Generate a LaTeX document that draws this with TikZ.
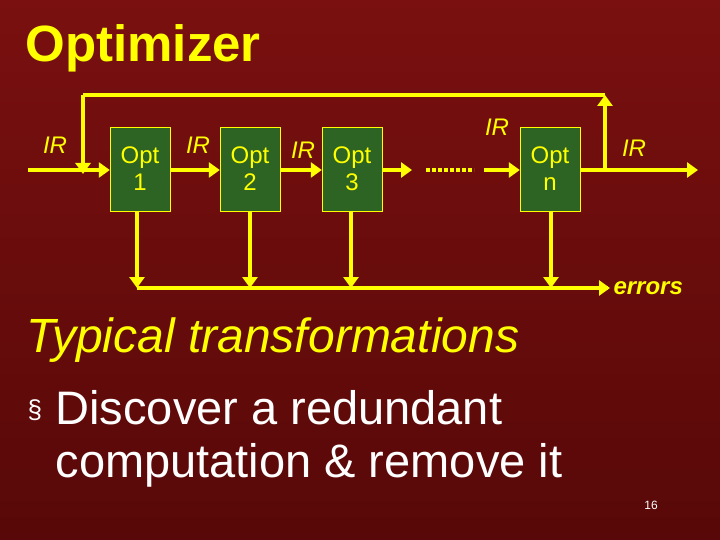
\documentclass[tikz,border=0pt]{standalone}
\usepackage{fontspec}
\setmainfont{Liberation Sans}
\usetikzlibrary{arrows.meta, positioning}
\definecolor{slidetop}{RGB}{122, 16, 16}
\definecolor{slidebottom}{RGB}{88, 8, 8}
\definecolor{optgreen}{RGB}{45, 100, 35}
\definecolor{lineyellow}{RGB}{255, 255, 0}

\begin{document}
\begin{tikzpicture}[x=1pt, y=-1pt,
    optbox/.style={draw=lineyellow, fill=optgreen, minimum width=60pt, minimum height=84pt,
        inner sep=0pt, text=lineyellow, font=\fontsize{24}{27}\selectfont, align=center},
    flow/.style={lineyellow, line width=3.5pt, -{Triangle[length=11pt, width=15pt]}},
    plain/.style={lineyellow, line width=3.5pt},
    irlabel/.style={text=lineyellow, font=\fontsize{24}{26}\selectfont\itshape}
]
% background
\shade[top color=slidetop, bottom color=slidebottom] (0,0) rectangle (720,540);
\useasboundingbox (0,0) rectangle (720,540);

% title
\node[anchor=west, text=lineyellow, font=\fontsize{51}{54}\selectfont\bfseries] (title) at (22,48) {Optimizer};

% optimizer passes
\node[optbox] (opt1) at (140,169) {Opt\\1};
\node[optbox] (opt2) at (250,169) {Opt\\2};
\node[optbox] (opt3) at (352,169) {Opt\\3};
\node[optbox] (optn) at (550,169) {Opt\\n};

% helper points
\coordinate (in) at (28,170);
\coordinate (out) at (698,170);
\coordinate (split) at (605,170);
\coordinate (topr) at (605,95);
\coordinate (topl) at (83,95);
\coordinate (join) at (83,170);
\coordinate (d1) at (412,170);
\coordinate (d2) at (484,170);
\coordinate (errl) at (137,288);
\coordinate (errr) at (608,288);

% main flow
\draw[flow] (in) -- (opt1.west |- in);
\draw[flow] (opt1.east |- in) -- (opt2.west |- in);
\draw[flow] (opt2.east |- in) -- (opt3.west |- in);
\draw[flow] (opt3.east |- in) -- (d1);
\draw[lineyellow, line width=4pt, dash pattern=on 4pt off 2pt] (426,170) -- (474,170);
\draw[flow] (d2) -- (optn.west |- in);
\draw[flow] (optn.east |- in) -- (out);

% feedback loop
\draw[flow] (split) -- (topr);
\draw[plain] (topr) -- (topl);
\draw[flow] (topl) -- ([yshift=-4pt]join);

% error outputs
\draw[plain] (errl) -- (errr);
\draw[flow] (errr) -- ++(2,0);
\foreach \o/\x in {opt1/137, opt2/250, opt3/351, optn/551}
    \draw[flow] (\x,211) -- (\x,288);

% labels
\node[irlabel] (ir0) at (55,145) {IR};
\node[irlabel] (ir1) at (198,145) {IR};
\node[irlabel] (ir2) at (303,150) {IR};
\node[irlabel] (ir3) at (497,127) {IR};
\node[irlabel] (ir4) at (634,148) {IR};
\node[anchor=west, text=lineyellow, font=\fontsize{24}{26}\selectfont\bfseries\itshape] (errors) at (610,288) {errors};

% body text
\node[anchor=west, text=lineyellow, font=\fontsize{48}{52}\selectfont\itshape] (heading) at (23,340) {Typical transformations};
\node[anchor=west, text=white, font=\fontsize{26}{28}\selectfont] (bullet) at (24,410) {§};
\node[anchor=west, text=white, font=\fontsize{47}{50}\selectfont] (line1) at (52,408) {Discover a redundant};
\node[anchor=west, text=white, font=\fontsize{47}{50}\selectfont] (line2) at (52,465) {computation \& remove it};
\node[text=white, font=\fontsize{12}{14}\selectfont] (page) at (651,505) {16};
\end{tikzpicture}
\end{document}
